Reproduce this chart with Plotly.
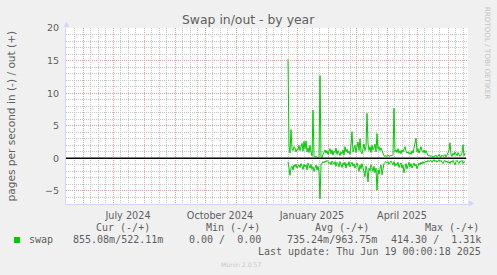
import pandas as pd
import plotly.graph_objects as go

# ---------------- data ----------------
series_start = "2024-12-23"   # first day with data (daily values)
swap_out = [
    15.2, 2.0, 0.8, 4.4, 1.5, 1.2, 1.8, 1.6, 1.0, 1.4, 1.3, 2.0, 1.2, 1.7, 2.3, 1.1,
    2.6, 1.5, 2.7, 1.0, 1.6, 0.9, 2.0, 1.0, 0.4, 7.4, 0.3, 0.2, 0.3, 0.2, 0.1, 0.3,
    12.7, 0.2, 0.1, 0.6, 0.9, 1.3, 0.8, 1.2, 0.6, 1.0, 1.5, 0.7, 1.3, 0.5, 1.1, 0.9,
    1.6, 0.6, 1.2, 0.8, 0.4, 1.0, 0.7, 1.3, 0.5, 1.8, 1.0, 1.4, 0.8, 1.1, 0.6, 2.0,
    4.1, 1.0, 1.6, 2.0, 0.9, 1.8, 2.5, 1.2, 3.0, 1.0, 0.7, 1.5, 2.2, 1.2, 1.8, 6.9,
    2.3, 1.2, 1.8, 0.9, 2.0, 1.3, 1.6, 2.2, 1.0, 3.8, 1.4, 1.8, 1.2, 1.6, 1.0, 0.8,
    0.4, 0.3, 0.4, 0.3, 0.5, 0.4, 0.3, 0.5, 0.4, 0.6, 7.7, 1.0, 1.3, 0.9, 1.5, 0.8,
    1.2, 0.7, 1.3, 1.0, 1.6, 1.8, 1.1, 0.8, 1.0, 0.7, 0.9, 0.6, 1.2, 0.8, 1.6, 2.2,
    3.1, 1.0, 1.5, 0.8, 1.3, 1.8, 1.1, 0.9, 1.3, 0.8, 1.2, 0.6, 0.4, 0.5, 0.3, 0.4,
    0.3, 0.2, 0.4, 0.3, 0.5, 0.2, 0.3, 0.6, 0.3, 0.2, 0.5, 0.3, 0.4, 0.6, 0.2, 0.5,
    0.9, 1.2, 2.4, 0.6, 0.3, 0.8, 0.5, 1.0, 0.7, 0.4, 0.9, 0.6, 0.3, 0.5, 0.8, 2.1,
    0.4, 0.8,
]
swap_in = [
    0.5, 1.6, 2.6, 1.5, 1.2, 1.8, 1.0, 1.3, 0.9, 1.5, 1.1, 1.0, 1.4, 0.8, 1.2, 1.7,
    0.9, 1.3, 1.0, 1.8, 0.7, 1.2, 1.5, 0.9, 1.7, 1.3, 2.0, 1.5, 1.0, 1.8, 1.2, 2.0,
    6.2, 1.0, 0.8, 0.5, 0.7, 0.4, 0.6, 0.3, 0.5, 0.8, 0.6, 1.0, 0.4, 0.7, 0.9, 0.5,
    1.2, 0.6, 0.8, 1.3, 0.5, 0.9, 1.4, 0.7, 1.0, 0.6, 1.5, 0.8, 1.1, 0.5, 1.3, 0.9,
    0.6, 1.2, 0.8, 1.5, 1.0, 0.7, 1.3, 2.0, 1.0, 1.6, 0.8, 1.4, 2.1, 2.8, 1.2, 1.8,
    3.6, 1.5, 1.9, 1.0, 1.4, 2.0, 1.2, 2.2, 1.5, 4.9, 1.8, 2.4, 1.6, 1.0, 2.5, 1.2,
    0.8, 0.6, 0.5, 0.7, 0.5, 0.9, 0.6, 0.4, 0.7, 1.0, 0.5, 1.2, 0.8, 1.1, 0.6, 1.4,
    0.9, 0.7, 1.5, 1.0, 2.2, 1.2, 0.8, 1.6, 0.9, 0.6, 1.3, 0.8, 1.5, 1.0, 0.7, 1.2,
    0.9, 1.6, 1.1, 0.7, 1.0, 0.6, 0.9, 0.5, 0.8, 0.6, 0.4, 0.6, 0.3, 0.5, 0.4, 0.3,
    0.6, 0.4, 0.2, 0.5, 0.3, 0.6, 0.4, 0.2, 0.5, 0.3, 0.6, 0.8, 0.4, 0.3, 0.6, 0.4,
    0.7, 0.5, 0.8, 0.4, 0.6, 0.3, 0.7, 1.0, 0.5, 0.3, 0.6, 0.8, 0.4, 0.5, 0.3, 0.8,
    0.5, 0.6,
]
zero_line_dates = ["2024-05-15", "2025-06-19"]
zero_line_vals = [0, 0]

x_range = ["2024-05-15", "2025-06-21"]
y_range = [-7, 20]
month_starts = ["2024-06-01", "2024-07-01", "2024-08-01", "2024-09-01", "2024-10-01",
                "2024-11-01", "2024-12-01", "2025-01-01", "2025-02-01", "2025-03-01",
                "2025-04-01", "2025-05-01", "2025-06-01"]
month_labels = ["", "July 2024", "", "", "October 2024", "", "", "January 2025", "", "",
                "April 2025", "", ""]

legend_headers = ["Cur (-/+)", "Min (-/+)", "Avg (-/+)", "Max (-/+)"]
legend_name = "swap"
legend_values = ["855.08m/522.11m", "0.00 /  0.00", "735.24m/963.75m", "414.30 /  1.31k"]
last_update = "Last update: Thu Jun 19 00:00:18 2025"
title_text = "Swap in/out - by year"
y_title = "pages per second in (-) / out (+)"

# ---------------- derived ----------------
dates = pd.date_range(series_start, periods=len(swap_out), freq="D")
neg_in = [-v for v in swap_in]

# minor grid: months split in quarters
minor_vals = []
for ms in pd.date_range("2024-05-01", "2025-06-01", freq="MS"):
    for h in (7.5, 15, 22.5):
        minor_vals.append(ms + pd.Timedelta(days=h))

W, H = 497, 275
L, R, T, B = 66, 468, 28, 204


def px_x(x):
    return (x - L) / (R - L)


def px_y(y):
    return (B - y) / (B - T)


GREEN = "#00CC00"
AXIS = "#CFD6F8"
FONT = "#5E5E5E"
MGRID = "#E4A0A0"
GRID = "#C4C4C4"
DASH = "1px,1px"

fig = go.Figure()
fig.add_trace(go.Scatter(x=dates, y=swap_out, mode="lines",
                         line=dict(color=GREEN, width=1), hoverinfo="skip", showlegend=False))
fig.add_trace(go.Scatter(x=dates, y=neg_in, mode="lines",
                         line=dict(color=GREEN, width=1), hoverinfo="skip", showlegend=False))
fig.add_trace(go.Scatter(x=zero_line_dates, y=zero_line_vals, mode="lines",
                         line=dict(color="#000000", width=1.5), hoverinfo="skip", showlegend=False))

fig.update_layout(
    width=W, height=H,
    margin=dict(l=L, r=W - R, t=T, b=H - B, pad=0),
    paper_bgcolor="#F0F0F0", plot_bgcolor="#FFFFFF",
    font=dict(family="DejaVu Sans", color=FONT, size=9.5),
    showlegend=False,
    xaxis=dict(
        type="date", range=x_range, showline=True, linecolor=AXIS, linewidth=1,
        tickmode="array", tickvals=month_starts, ticktext=month_labels,
        ticks="", ticklabelshift=15, ticklabelstandoff=2,
        showgrid=True, gridcolor=MGRID, griddash=DASH, gridwidth=1,
        zeroline=False, tickfont=dict(size=9.7, color=FONT),
        minor=dict(tickmode="array", tickvals=minor_vals, showgrid=True,
                   gridcolor=GRID, griddash=DASH, gridwidth=1, ticks=""),
    ),
    yaxis=dict(
        range=y_range, showline=True, linecolor=AXIS, linewidth=1,
        tickmode="linear", tick0=0, dtick=5, ticks="", ticklabelstandoff=4,
        showgrid=True, gridcolor=MGRID, griddash=DASH, gridwidth=1,
        zeroline=False, tickfont=dict(size=9.5, color=FONT),
        minor=dict(tick0=0, dtick=1, showgrid=True, gridcolor=GRID, griddash=DASH,
                   gridwidth=1, ticks=""),
    ),
)

# axis arrows
fig.add_shape(type="path", xref="paper", yref="paper",
              path=f"M {px_x(63.8)} {px_y(27)} L {px_x(66.5)} {px_y(21.5)} L {px_x(69.2)} {px_y(27)} Z",
              fillcolor=AXIS, line=dict(width=0))
fig.add_shape(type="path", xref="paper", yref="paper",
              path=f"M {px_x(468.5)} {px_y(200.3)} L {px_x(474.5)} {px_y(203.3)} L {px_x(468.5)} {px_y(206.3)} Z",
              fillcolor=AXIS, line=dict(width=0))
# legend square
fig.add_shape(type="rect", xref="paper", yref="paper",
              x0=px_x(14), x1=px_x(20), y0=px_y(243), y1=px_y(237),
              fillcolor=GREEN, line=dict(width=0))

ann = []
ann.append(dict(text=title_text, x=px_x(248), y=px_y(19.5), xanchor="center", yanchor="middle",
                font=dict(family="DejaVu Sans", size=12.4, color=FONT)))
ann.append(dict(text=y_title, x=px_x(10.5), y=px_y(116), xanchor="center", yanchor="middle",
                textangle=-90, font=dict(family="DejaVu Sans", size=10.6, color=FONT)))
ann.append(dict(text="RRDTOOL / TOBI OETIKER", x=px_x(487.7), y=px_y(53.5), xanchor="center",
                yanchor="middle", textangle=90, font=dict(family="DejaVu Sans", size=7.2, color="#C4C4C4")))
ann.append(dict(text="Munin 2.0.57", x=px_x(241.5), y=px_y(264), xanchor="center", yanchor="middle",
                font=dict(family="DejaVu Sans", size=6.2, color="#C8C8C8")))

mono = dict(family="DejaVu Sans Mono", size=10, color=FONT)
header_x = [94.3, 204, 313.3, 422.7]
for hx, ht in zip(header_x, legend_headers):
    ann.append(dict(text=ht, x=px_x(hx), y=px_y(227.7), xanchor="left", yanchor="middle", font=mono))
ann.append(dict(text=legend_name, x=px_x(26.7), y=px_y(239.5), xanchor="left", yanchor="middle", font=mono))
val_pos = [(71, "left"), (263, "right"), (285, "left"), (482.5, "right")]
for (vx, anc), vt in zip(val_pos, legend_values):
    ann.append(dict(text=vt.replace(" ", "&nbsp;"), x=px_x(vx), y=px_y(239.5), xanchor=anc,
                    yanchor="middle", font=mono))
ann.append(dict(text=last_update.replace(" ", "&nbsp;"), x=px_x(482.5), y=px_y(251.7), xanchor="right",
                yanchor="middle", font=mono))

for a in ann:
    a.update(xref="paper", yref="paper", showarrow=False)
fig.update_layout(annotations=ann)

fig.write_html("out.html")
